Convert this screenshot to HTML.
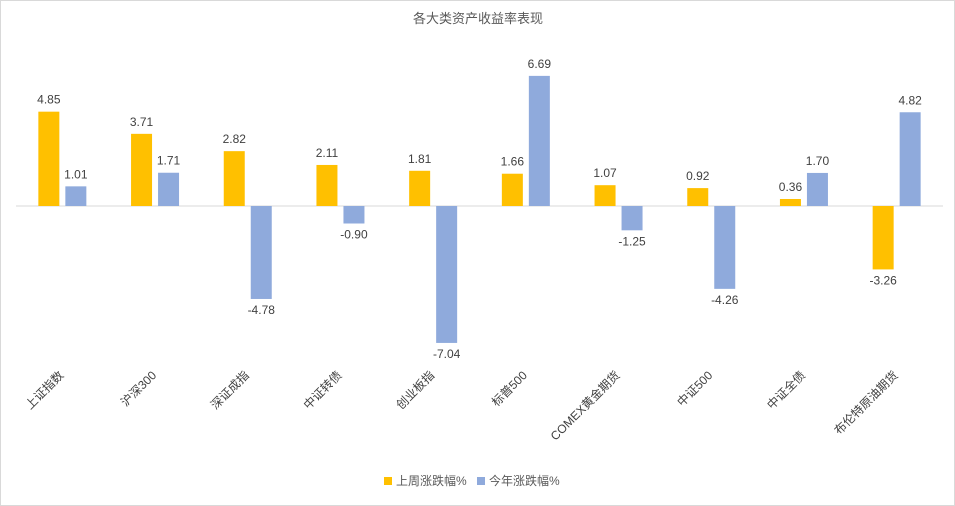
<!DOCTYPE html>
<html><head><meta charset="utf-8"><style>
body{margin:0;background:#fff;}
svg{display:block;font-family:"Liberation Sans","Noto Sans CJK SC",sans-serif;}
</style></head><body>
<svg id="chart" width="955" height="506">
<rect x="0.5" y="0.5" width="954" height="505" fill="#fff" stroke="#d9d9d9"/>
<text x="478" y="23" text-anchor="middle" font-size="13" fill="#595959">各大类资产收益率表现</text>
<g id="plot"></g>
<g>
<rect x="384" y="477" width="8" height="8" fill="#FFC000"/>
<text x="396" y="485" font-size="12" fill="#595959">上周涨跌幅%</text>
<rect x="477" y="477" width="8" height="8" fill="#8FAADC"/>
<text x="489" y="485" font-size="12" fill="#595959">今年涨跌幅%</text>
</g>
</svg>
<script>
const categories=["上证指数","沪深300","深证成指","中证转债","创业板指","标普500","COMEX黄金期货","中证500","中证全债","布伦特原油期货"];
const weekly=[4.85,3.71,2.82,2.11,1.81,1.66,1.07,0.92,0.36,-3.26];
const ytd=[1.01,1.71,-4.78,-0.90,-7.04,6.69,-1.25,-4.26,1.70,4.82];
const NS="http://www.w3.org/2000/svg";
const g=document.getElementById('plot');
const left=16,catW=92.7,zeroY=206,scale=19.45,barW=21,gap=6;
const xC=i=>left+catW*(i+0.5);
const yV=v=>zeroY-v*scale;
function mk(t,a){const e=document.createElementNS(NS,t);for(const k in a)e.setAttribute(k,a[k]);g.appendChild(e);return e;}
const ax=mk('line',{x1:left,x2:left+catW*10,y1:zeroY,y2:zeroY,stroke:'#d9d9d9'});


function bar(i,v,series,color,off){
  const x=xC(i)+off;
  const r=mk('rect',{x:x,y:Math.min(yV(v),zeroY),width:barW,height:Math.abs(yV(v)-zeroY),fill:color});
  
  
  const ty=v>=0?yV(v)-8:yV(v)+15;
  const t=mk('text',{x:x+barW/2,y:ty,'text-anchor':'middle','font-size':12,fill:'#404040'});
  t.textContent=v.toFixed(2);
  
  
}
categories.forEach((c,i)=>{
  bar(i,weekly[i],'weekly','#FFC000',-barW-gap/2);
  bar(i,ytd[i],'ytd','#8FAADC',gap/2);
  const cx=xC(i)+2,cy=376;
  const t=mk('text',{x:cx,y:cy,'text-anchor':'end','font-size':12,fill:'#404040',transform:'rotate(-45 '+cx+' '+cy+')'});
  t.textContent=c;
  
  
});
</script>
</body></html>
